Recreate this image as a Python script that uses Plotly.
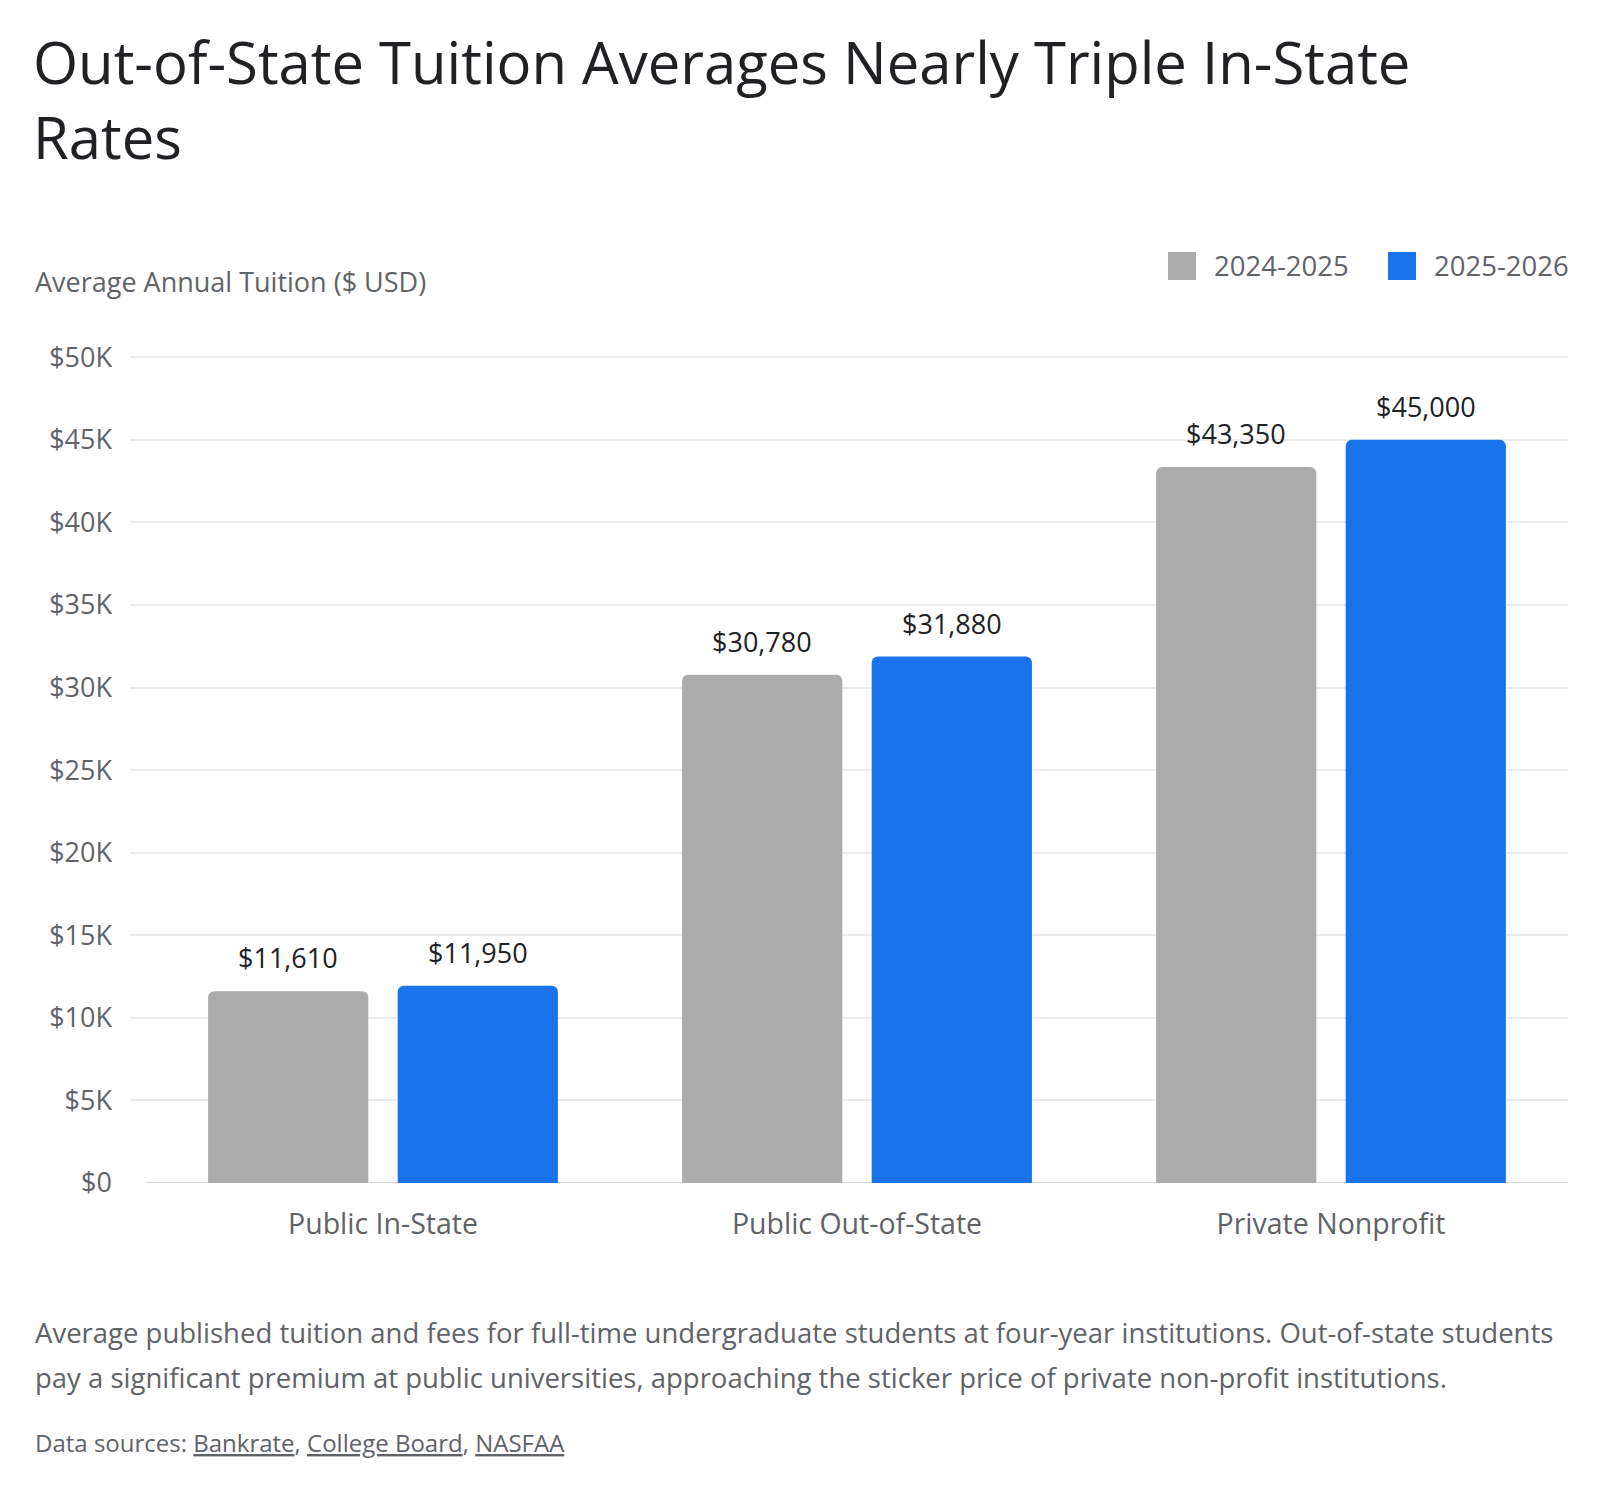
import plotly.graph_objects as go

# ---- data ----
categories = ["Public In-State", "Public Out-of-State", "Private Nonprofit"]
series_names = ["2024-2025", "2025-2026"]
values_2024 = [11610, 30780, 43350]
values_2025 = [11950, 31880, 45000]
y_tickvals = [0, 5000, 10000, 15000, 20000, 25000, 30000, 35000, 40000, 45000, 50000]
y_ticktext = ["$0", "$5K", "$10K", "$15K", "$20K", "$25K", "$30K", "$35K", "$40K", "$45K", "$50K"]

title_text = "Out-of-State Tuition Averages Nearly Triple In-State<br>Rates"
y_title = "Average Annual Tuition ($ USD)"
footnote_lines = [
    "Average published tuition and fees for full-time undergraduate students at four-year institutions. Out-of-state students",
    "pay a significant premium at public universities, approaching the sticker price of private non-profit institutions.",
]
sources = "Data sources: <u>Bankrate</u>, <u>College Board</u>, <u>NASFAA</u>"

# ---- style ----
FONT = "Open Sans"
W, H = 1600, 1490
ML, MR, MB = 130, 32, 307
Y_TOP = 50200                     # a touch above 50K so the top gridline is drawn
PX_PER_UNIT = 826 / 50000
MT = round(H - MB - Y_TOP * PX_PER_UNIT)
GRAY = "#ababab"
BLUE = "#1a73e8"
TXT = "#5f6368"
DARK = "#202124"
colors = [GRAY, BLUE]
x_range = [-0.5 - 16 / 474, 2.5]   # gridlines extend a little left of the first band
bargap = 0.2
bargroupgap = 0.155

plot_w = W - ML - MR
plot_h = H - MT - MB


def px_x(px):
    return (px - ML) / plot_w


def px_y(py):
    return (H - MB - py) / plot_h


fig = go.Figure()
for name, vals, col in zip(series_names, [values_2024, values_2025], colors):
    fig.add_trace(go.Bar(
        x=categories, y=vals, name=name,
        marker=dict(color=col, line=dict(width=0), cornerradius=6),
        showlegend=False, hoverinfo="skip",
    ))

# value labels above bars
band_px = plot_w / (x_range[1] - x_range[0])
slot_off = band_px * (1 - bargap) / 4
annotations = []
for i, vals in enumerate([values_2024, values_2025]):
    shift = -slot_off if i == 0 else slot_off
    for c, v in zip(categories, vals):
        annotations.append(dict(
            x=c, y=v, xref="x", yref="y", text=f"${v:,}", showarrow=False,
            xshift=shift, yshift=13, yanchor="bottom", xanchor="center",
            font=dict(family=FONT, size=27, color=DARK),
        ))

# y-axis title
annotations.append(dict(
    x=px_x(33), y=px_y(282), xref="paper", yref="paper", text=y_title,
    showarrow=False, xanchor="left", yanchor="middle",
    font=dict(family=FONT, size=27, color=TXT),
))

# baseline (axis line) under the bars
shapes = [dict(
    type="line", xref="x", yref="y", x0=-0.5, x1=2.5, y0=0, y1=0,
    line=dict(color="#d6d6d6", width=2), layer="below",
)]

# manual legend
legend_sq = [1168, 1388]
for name, col, x0 in zip(series_names, colors, legend_sq):
    shapes.append(dict(
        type="rect", xref="paper", yref="paper",
        x0=px_x(x0), x1=px_x(x0 + 28), y0=px_y(280), y1=px_y(252),
        fillcolor=col, line=dict(width=0),
    ))
    annotations.append(dict(
        x=px_x(x0 + 44), y=px_y(266), xref="paper", yref="paper", text=name,
        showarrow=False, xanchor="left", yanchor="middle",
        font=dict(family=FONT, size=27.5, color=TXT),
    ))

# footnote and sources
for line, ypx in zip(footnote_lines, [1332, 1377]):
    annotations.append(dict(
        x=px_x(33), y=px_y(ypx), xref="paper", yref="paper", text=line,
        showarrow=False, xanchor="left", yanchor="middle", align="left",
        font=dict(family=FONT, size=27.5, color=TXT),
    ))
annotations.append(dict(
    x=px_x(33), y=px_y(1442), xref="paper", yref="paper", text=sources,
    showarrow=False, xanchor="left", yanchor="middle", align="left",
    font=dict(family=FONT, size=24, color=TXT),
))

fig.update_layout(
    width=W, height=H,
    margin=dict(l=ML, r=MR, t=MT, b=MB, pad=0),
    paper_bgcolor="white", plot_bgcolor="white",
    barmode="group", bargap=bargap, bargroupgap=bargroupgap,
    title=dict(
        text=title_text, xref="container", yref="container",
        x=33 / W, xanchor="left", y=1 - 84 / H, yanchor="top",
        font=dict(family=FONT, size=58, color=DARK),
    ),
    xaxis=dict(
        range=x_range, showgrid=False, zeroline=False, showline=False,
        ticks="outside", ticklen=16, tickcolor="rgba(0,0,0,0)",
        tickfont=dict(family=FONT, size=28.5, color=TXT),
        fixedrange=True,
    ),
    yaxis=dict(
        range=[0, Y_TOP], tickvals=y_tickvals, ticktext=y_ticktext,
        showgrid=True, gridcolor="#ebebeb", gridwidth=2,
        zeroline=False, showline=False, ticks="", ticklabelstandoff=17,
        tickfont=dict(family=FONT, size=27, color=TXT),
        fixedrange=True,
    ),
    annotations=annotations, shapes=shapes,
    showlegend=False,
)

fig.write_html("out.html")
